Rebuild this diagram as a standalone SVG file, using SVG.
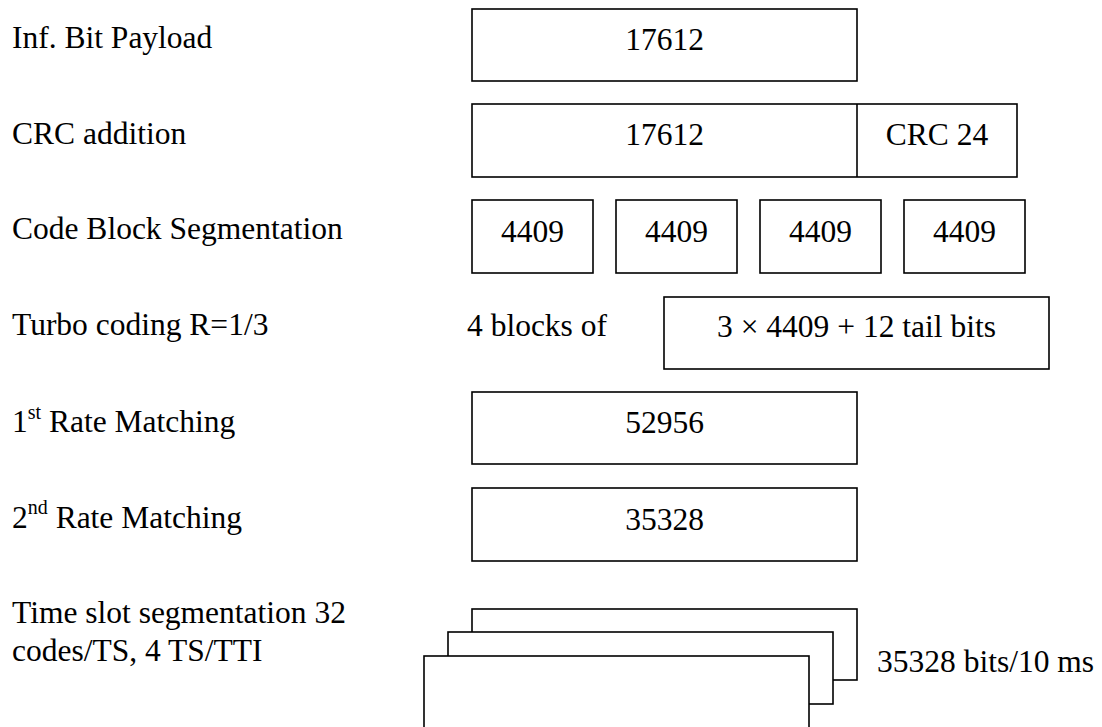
<svg xmlns="http://www.w3.org/2000/svg" width="1102" height="727" viewBox="0 0 1102 727">
<style>
text{font-family:"Liberation Serif","Times New Roman",serif;font-size:31.5px;fill:#000}
.c{text-anchor:middle}
.b{fill:#fff;stroke:#000;stroke-width:1.6}
.sup{font-size:20px}
</style>
<rect width="1102" height="727" fill="#fff"/>
<g id="labels">
<text x="12" y="48">Inf. Bit Payload</text>
<text x="12" y="144">CRC addition</text>
<text x="12" y="239">Code Block Segmentation</text>
<text x="12" y="335">Turbo coding R=1/3</text>
<text x="12" y="432">1<tspan class="sup" dy="-13">st</tspan><tspan dy="13"> Rate Matching</tspan></text>
<text x="12" y="528">2<tspan class="sup" dy="-14">nd</tspan><tspan dy="14"> Rate Matching</tspan></text>
<text x="12" y="623">Time slot segmentation 32</text>
<text x="12" y="661">codes/TS, 4 TS/TTI</text>
</g>
<g id="payload">
<rect class="b" x="472" y="9" width="385" height="72"/>
<text class="c" x="664.5" y="50">17612</text>
</g>
<g id="crc">
<rect class="b" x="472" y="104" width="545" height="73"/>
<line x1="857" y1="104" x2="857" y2="177" stroke="#000" stroke-width="1.6"/>
<text class="c" x="664.5" y="145">17612</text>
<text class="c" x="937" y="145">CRC 24</text>
</g>
<g id="seg1"><rect class="b" x="472" y="200" width="121" height="73"/><text class="c" x="532.5" y="242">4409</text></g>
<g id="seg2"><rect class="b" x="616" y="200" width="121" height="73"/><text class="c" x="676.5" y="242">4409</text></g>
<g id="seg3"><rect class="b" x="760" y="200" width="121" height="73"/><text class="c" x="820.5" y="242">4409</text></g>
<g id="seg4"><rect class="b" x="904" y="200" width="121" height="73"/><text class="c" x="964.5" y="242">4409</text></g>
<g id="turbo">
<text x="467" y="336">4 blocks of</text>
<rect class="b" x="664" y="297" width="385" height="72"/>
<text class="c" x="856.5" y="337">3 × 4409 + 12 tail bits</text>
</g>
<g id="rm1">
<rect class="b" x="472" y="392" width="385" height="72"/>
<text class="c" x="664.5" y="433">52956</text>
</g>
<g id="rm2">
<rect class="b" x="472" y="488" width="385" height="73"/>
<text class="c" x="664.5" y="530">35328</text>
</g>
<g id="slots">
<rect class="b" x="472" y="609" width="385" height="71"/>
<rect class="b" x="448" y="632" width="385" height="72"/>
<rect class="b" x="424" y="656" width="385" height="80"/>
<text x="877" y="672">35328 bits/10 ms</text>
</g>
<g id="connectors"></g>
</svg>
